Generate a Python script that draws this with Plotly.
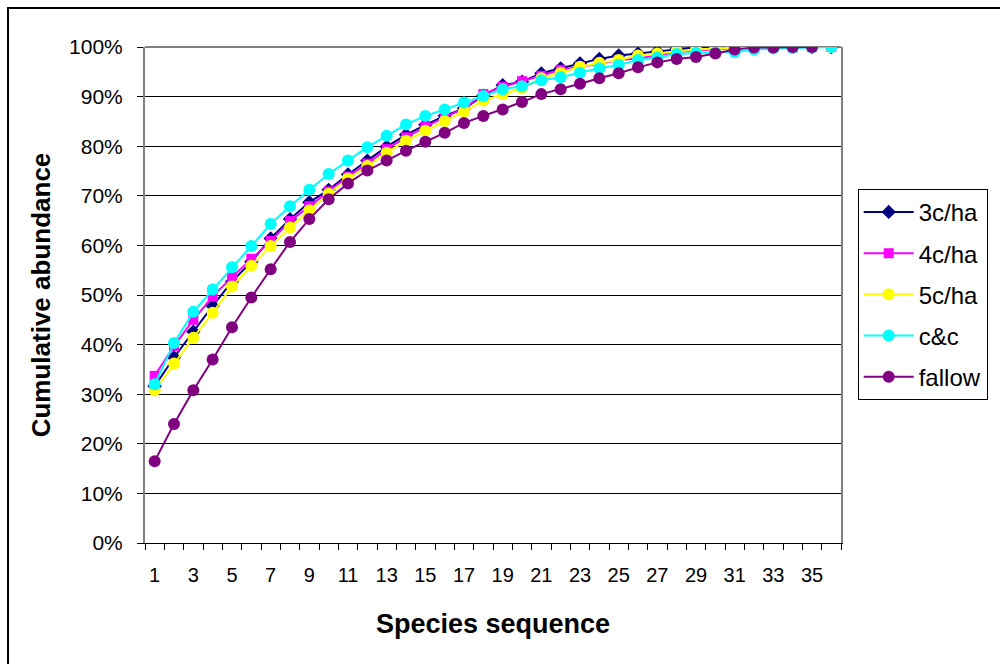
import plotly.graph_objects as go

species = list(range(1, 37))
x_tick_values = list(range(1, 36, 2))
x_tick_labels = [str(v) for v in x_tick_values]
y_tick_values = list(range(0, 101, 10))
y_tick_labels = [f"{v}%" for v in y_tick_values]

s_3c = [31.6, 37.4, 42.6, 47.8, 52.7, 56.7, 61.4, 65.3, 68.7, 71.2, 74.3, 77.1,
        79.9, 82.3, 84.3, 86.1, 87.6, 90.2, 92.3, 93.0, 94.7, 95.7, 96.7, 97.6,
        98.3, 98.7, 99.1, 99.6, 99.9, 100, 100, 100, 100, 100, 100, 100]
s_4c = [33.7, 39.7, 45.0, 49.7, 53.6, 57.3, 60.9, 64.9, 67.9, 70.9, 73.9, 76.5,
        79.4, 81.8, 83.9, 85.8, 87.6, 90.5, 92.0, 93.1, 94.2, 95.4, 96.0, 96.6,
        97.4, 97.7, 98.3, 99.0, 99.3, 99.6, 99.8, 100, 100, 100, 100, 100]
s_5c = [30.8, 36.2, 41.4, 46.4, 51.7, 55.9, 59.9, 63.6, 67.1, 70.4, 73.5, 76.0,
        78.7, 81.1, 83.1, 85.1, 87.0, 89.2, 90.5, 91.7, 93.7, 94.8, 96.0, 96.8,
        97.4, 98.3, 98.7, 99.2, 99.5, 99.7, 99.9, 100, 100, 100, 100, 100]
s_cc = [32.0, 40.3, 46.6, 51.1, 55.6, 59.9, 64.3, 67.9, 71.2, 74.4, 77.1, 79.8,
        82.1, 84.4, 86.1, 87.4, 88.8, 90.1, 91.5, 92.1, 93.3, 93.9, 94.8, 95.7,
        96.4, 97.4, 97.9, 98.6, 98.8, 98.9, 99.0, 99.5, 99.7, 99.8, 99.9, 100]
s_fallow = [16.5, 24.0, 30.8, 37.0, 43.5, 49.5, 55.2, 60.7, 65.3, 69.3, 72.5, 75.1,
            77.1, 79.1, 80.9, 82.7, 84.7, 86.1, 87.4, 88.9, 90.5, 91.5, 92.6, 93.7,
            94.7, 95.9, 96.9, 97.6, 98.0, 98.7, 99.5, 99.9, 99.9, 100, 100]

series = [
    ("3c/ha", s_3c, "#000080", "diamond", 11),
    ("4c/ha", s_4c, "#FF00FF", "square", 10),
    ("5c/ha", s_5c, "#FFFF00", "circle", 12),
    ("c&c", s_cc, "#00FFFF", "circle", 12),
    ("fallow", s_fallow, "#800080", "circle", 12),
]

fig = go.Figure()
for name, vals, color, symbol, size in series:
    fig.add_trace(go.Scatter(
        x=species[:len(vals)], y=vals, name=name, mode="lines+markers",
        legendgroup=name,
        line=dict(color=color, width=2),
        marker=dict(color=color, symbol=symbol, size=size, line=dict(width=0)),
    ))

base_font = "Liberation Sans, Arial, sans-serif"
narrow_font = "Liberation Sans Narrow, Arial Narrow, Liberation Sans, Arial, sans-serif"

fig.update_layout(
    width=1000, height=664,
    margin=dict(l=145, r=159, t=47, b=121),
    paper_bgcolor="white", plot_bgcolor="white",
    font=dict(family=base_font, color="black"),
    showlegend=True,
    legend=dict(
        x=1.024, y=0.714, xanchor="left", yanchor="top",
        bordercolor="black", borderwidth=1, bgcolor="white",
        font=dict(size=24, family=base_font),
        tracegroupgap=7, itemwidth=50,
    ),
    xaxis=dict(
        range=[0.5, 36.5], tickmode="array", tickvals=x_tick_values,
        ticktext=x_tick_labels, ticks="", showgrid=False, zeroline=False,
        showline=True, linecolor="black", linewidth=1,
        tickfont=dict(size=20, family=narrow_font),
        ticklabelstandoff=14,
        minor=dict(tickmode="array", tickvals=[v + 0.5 for v in range(0, 37)],
                   ticks="outside", ticklen=6, tickcolor="black", tickwidth=1),
        title=dict(text="<b>Species sequence</b>", font=dict(size=27, family=base_font),
                   standoff=29),
    ),
    yaxis=dict(
        range=[0, 100], tickmode="array", tickvals=y_tick_values, ticktext=y_tick_labels,
        ticks="outside", ticklen=6, tickcolor="black",
        showgrid=True, gridcolor="black", gridwidth=1, zeroline=False,
        showline=True, linecolor="#808080", linewidth=2, mirror=True,
        tickfont=dict(size=21, family=base_font),
        ticklabelstandoff=10,
        title=dict(text="<b>Cumulative abundance</b>", font=dict(size=26, family=base_font),
                   standoff=11),
    ),
    shapes=[
        dict(type="line", xref="paper", yref="paper", x0=0, x1=1, y0=1, y1=1,
             line=dict(color="#808080", width=2), layer="between"),
        dict(type="rect", xref="paper", yref="paper", x0=-0.1968, x1=1.4,
             y0=-0.5, y1=1.0786, line=dict(color="black", width=2),
             fillcolor="rgba(0,0,0,0)", layer="below"),
    ],
)

fig.write_html("out.html")
